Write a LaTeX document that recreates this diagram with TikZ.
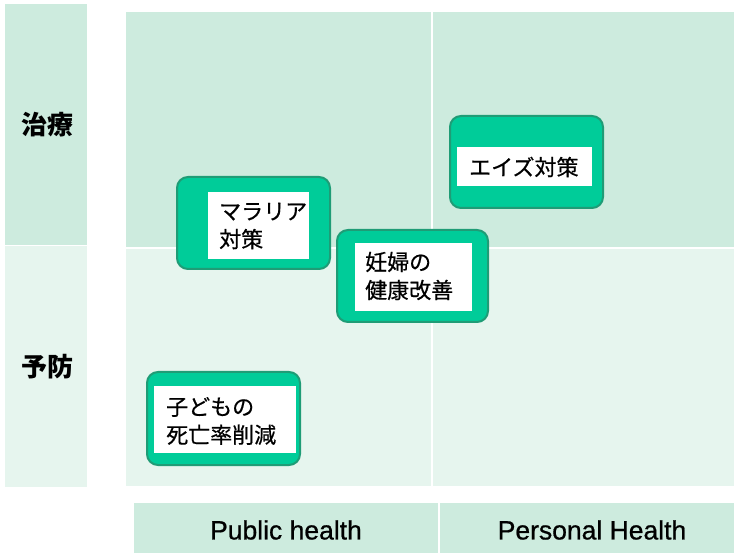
\documentclass[tikz,border=0pt]{standalone}
\usepackage{fontspec}
\setmainfont{Liberation Sans}
\newfontfamily\jp{Noto Sans CJK JP}
\newfontfamily\jpm[FakeBold=0.6]{Noto Sans CJK JP}
\newfontfamily\lsm[FakeBold=0.7]{Liberation Sans}
\definecolor{dark}{HTML}{CDEBDE}
\definecolor{light}{HTML}{E6F5EE}
\definecolor{gfill}{HTML}{00CC99}
\definecolor{gline}{HTML}{1F9C76}
\tikzset{
  x=1pt,y=-1pt,
  outerbox/.style={draw=gline,line width=2pt,fill=gfill,rounded corners=11pt},
  innerbox/.style={fill=white,draw=none},
  itemtext/.style={inner sep=0pt,anchor=west,align=left,font=\jpm\fontsize{22}{28}\selectfont},
  rowlabel/.style={font=\jp\bfseries\fontsize{26}{30}\selectfont},
  collabel/.style={font=\lsm\fontsize{26.5}{30}\selectfont},
}
\begin{document}
\begin{tikzpicture}
\useasboundingbox (0,0) rectangle (734,553);
% left column
\fill[dark] (5,4) rectangle (87,245);
\fill[light] (5,246) rectangle (87,487);
% main grid
\fill[dark] (126,12) rectangle (734,247);
\fill[light] (126,249) rectangle (734,486);
\draw[white,line width=1.5pt] (432,12) -- (432,486);
% bottom bar
\fill[dark] (134,503) rectangle (438,553);
\fill[dark] (440,503) rectangle (734,553);
% labels
\node[rowlabel] (tr) at (47,125) {治療};
\node[rowlabel] (yb) at (47,367) {予防};
\node[collabel] (pub) at (286,530) {Public health};
\node[collabel] (per) at (592,530) {Personal Health};
% item 1
\draw[outerbox] (177,177) rectangle (330,269);
\fill[innerbox] (208,192) rectangle (309,259);
\node[itemtext] (malaria) at (219,226) {マラリア\\対策};
% item 2
\draw[outerbox] (337,230) rectangle (488,322);
\fill[innerbox] (355,243) rectangle (472,311);
\node[itemtext] (ninpu) at (365,276) {妊婦の\\健康改善};
% item 3
\draw[outerbox] (450,116) rectangle (603,208);
\fill[innerbox] (457,147) rectangle (592,186);
\node[itemtext] (aids) at (469,167) {エイズ対策};
% item 4
\draw[outerbox] (147,372) rectangle (300,465);
\fill[innerbox] (154,386) rectangle (296,453);
\node[itemtext] (kodomo) at (166,421) {子どもの\\死亡率削減};
\end{tikzpicture}
\end{document}
